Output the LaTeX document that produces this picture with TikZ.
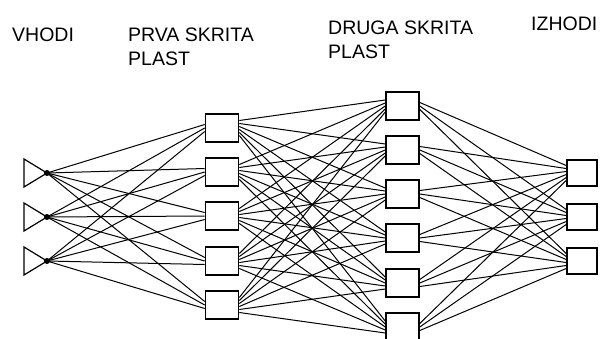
\documentclass[tikz,border=0pt]{standalone}
\usepackage{fontspec}
\setmainfont{Liberation Sans}
\begin{document}
\begin{tikzpicture}[x=1pt,y=-1pt]
  \tikzstyle{unit} = [rectangle,draw=black,line width=1.6pt,inner sep=0pt,
  minimum width=33pt,minimum height=28pt]
  \tikzstyle{outunit} = [unit,minimum width=30pt,minimum height=26pt]
  \tikzstyle{link} = [line width=1pt]
  \tikzstyle{title} = [anchor=north west,inner sep=0pt,align=left,
  font=\fontsize{19.5}{24}\selectfont]

  \clip (0,0) rectangle (600,338);
  \fill[white] (0,0) rectangle (600,338);

  % input triangles
  \foreach \i/\y in {1/173,2/217,3/261} {
    \coordinate (in\i) at (47,\y);
    \draw[line width=1.2pt] (in\i) -- ++(-23,-14) -- ++(0,28) -- cycle;
  }

  % first hidden layer
  \node[unit] (ha1) at (222,128) {};
  \node[unit] (ha2) at (222,172) {};
  \node[unit] (ha3) at (222,216) {};
  \node[unit] (ha4) at (222,261) {};
  \node[unit] (ha5) at (222,305) {};

  % second hidden layer
  \node[unit] (hb1) at (402.5,106) {};
  \node[unit] (hb2) at (402.5,150) {};
  \node[unit] (hb3) at (402.5,194) {};
  \node[unit] (hb4) at (402.5,238) {};
  \node[unit] (hb5) at (402.5,283) {};
  \node[unit] (hb6) at (402.5,327) {};

  % outputs
  \node[outunit] (out1) at (582,173) {};
  \node[outunit] (out2) at (582,217) {};
  \node[outunit] (out3) at (582,261) {};

  \node[title] (vhodi) at (12,28) {VHODI};
  \node[title] (prva) at (128,28) {PRVA SKRITA\\PLAST};
  \node[title] (druga) at (328,21) {DRUGA SKRITA\\PLAST};
  \node[title] (izhodi) at (531,17) {IZHODI};

  % weights
  \foreach \i in {1,2,3}
    \foreach \j in {1,...,5}
      \draw[link] (in\i) -- ([yshift={(2-\i)*3.5pt}]ha\j.west);
  \foreach \i in {1,...,5}
    \foreach \j in {1,...,6}
      \draw[link] ([yshift={(3.5-\j)*3pt}]ha\i.east)
        -- ([yshift={(3-\i)*3pt}]hb\j.west);
  \foreach \i in {1,...,6}
    \foreach \j in {1,2,3}
      \draw[link] ([yshift={(2-\j)*3.5pt}]hb\i.east)
        -- ([yshift={(3.5-\i)*3pt}]out\j.west);

  \foreach \i in {1,2,3}
    \fill (in\i) circle (3);
\end{tikzpicture}
\end{document}
